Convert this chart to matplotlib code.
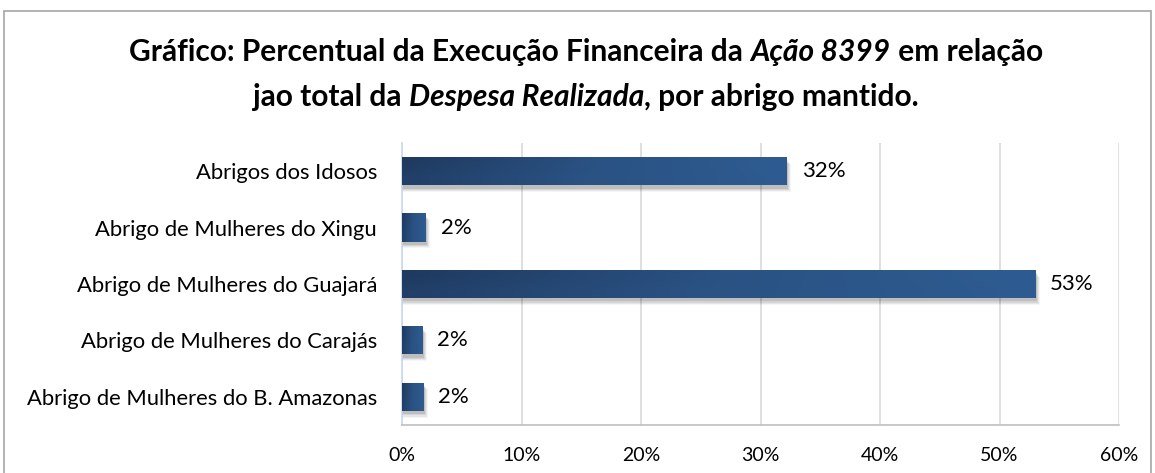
import matplotlib
matplotlib.use("Agg")
import matplotlib.pyplot as plt
import numpy as np
from matplotlib.patches import Rectangle
from matplotlib.colors import LinearSegmentedColormap

categories = ["Abrigos dos Idosos", "Abrigo de Mulheres do Xingu", "Abrigo de Mulheres do Guajará",
              "Abrigo de Mulheres do Carajás", "Abrigo de Mulheres do B. Amazonas"]
values = [32.2, 2.0, 53.0, 1.7, 1.8]
xticks = [0, 10, 20, 30, 40, 50, 60]
xtick_labels = ["0%", "10%", "20%", "30%", "40%", "50%", "60%"]

FONT = "Lato"
plt.rcParams['font.family'] = [FONT, 'DejaVu Sans']

W, H = 1155, 473
fig = plt.figure(figsize=(W/100, H/100), dpi=100)
ax = fig.add_axes([402/W, 1-425/H, (1119-402)/W, (425-143)/H])

# outer border
fig.patches.append(Rectangle((4/W, -0.05), (1151-4)/W, 1.05-11/H, transform=fig.transFigure,
                             fill=False, edgecolor="#A6A6A6", linewidth=1.2))

y = np.arange(len(categories))
bh = 0.5
cmap = LinearSegmentedColormap.from_list("g", ["#1F3A60", "#2A5283", "#2E5C92"])
grad = np.linspace(0, 1, 256).reshape(1, -1)
grad2 = np.vstack([grad, grad * 0.85 + 0.1])

ax.set_xlim(0, 60)
ax.set_ylim(len(categories) - 0.5, -0.5)

for i, v in enumerate(values):
    # shadow
    for k, a in enumerate([0.10, 0.08, 0.06, 0.04]):
        d = 0.12 + k * 0.08
        ax.add_patch(Rectangle((0, i - bh/2 + 0.06 + k*0.02), v + d, bh, facecolor="#000000",
                               alpha=a, edgecolor="none", zorder=2))
    rect = Rectangle((0, i - bh/2), v, bh, facecolor="none", edgecolor="none", zorder=3)
    ax.add_patch(rect)
    im = ax.imshow(grad2, cmap=cmap, aspect="auto", extent=(0, v, i + bh/2, i - bh/2),
                   zorder=3, interpolation="bilinear")
    im.set_clip_path(rect)
    ax.text(v + 1.25, i, f"{v:.0f}%", va="center", ha="left", fontsize=16, color="#000000")

ax.set_xticks(xticks)
ax.set_xticklabels(xtick_labels, fontsize=14)
ax.set_yticks(y)
ax.set_yticklabels(categories, fontsize=15.8)
ax.tick_params(axis="both", length=0)
ax.tick_params(axis="x", pad=16)
ax.tick_params(axis="y", pad=18)
ax.grid(axis="x", color="#D9D9D9", linewidth=1.2, zorder=0)
ax.set_axisbelow(True)
for s in ["top", "right"]:
    ax.spines[s].set_visible(False)
ax.spines["bottom"].set_color("#BFBFBF")
ax.spines["bottom"].set_linewidth(1.2)
ax.spines["left"].set_color("#C9D9EE")
ax.spines["left"].set_linewidth(1.2)

# Title with mixed italics
renderer = fig.canvas.get_renderer()
def draw_line(parts, ycen, size=21.5):
    texts = []
    for s, style in parts:
        t = fig.text(0, 0, s, fontsize=size, fontweight="bold", style=style, va="center", ha="left")
        texts.append(t)
    widths = [t.get_window_extent(renderer).width for t in texts]
    total = sum(widths)
    x = 586 - total/2
    for t, w in zip(texts, widths):
        t.set_position((x/W, 1 - ycen/H))
        x += w

draw_line([("Gráfico: Percentual da Execução Financeira da ", "normal"), ("Ação 8399", "italic"),
           (" em relação", "normal")], 52)
draw_line([("jao total da ", "normal"), ("Despesa Realizada", "italic"),
           (", por abrigo mantido.", "normal")], 97)

fig.savefig("out.png", dpi=100)
